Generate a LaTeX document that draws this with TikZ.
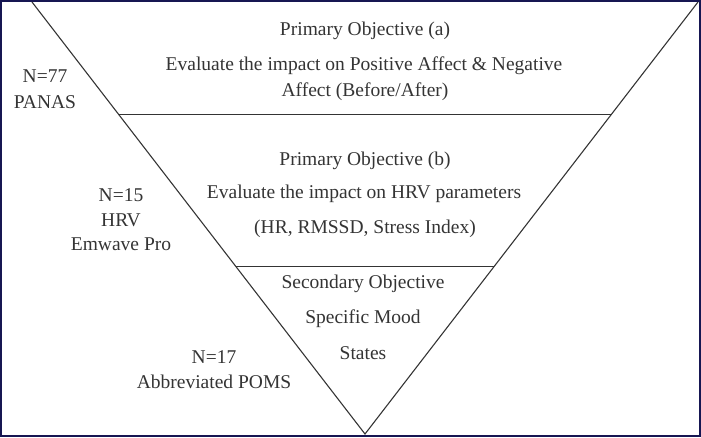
\documentclass[tikz,border=0pt]{standalone}
\usepackage{fontspec}
\setmainfont{Liberation Serif}
\usepackage{xcolor}
\usepackage{tikz}
\usetikzlibrary{calc}
\definecolor{inkgray}{RGB}{52,52,52}
\definecolor{framenavy}{RGB}{22,22,82}

\begin{document}
\begin{tikzpicture}[x=1pt, y=-1pt,
    txt/.style={text=inkgray, font=\fontsize{19.5}{23}\selectfont, anchor=base, inner sep=0pt},
    funnel/.style={draw=inkgray, line width=1.1pt, line join=miter}]
    \useasboundingbox (0,0) rectangle (701,437);

    % Frame
    \draw[framenavy, line width=2pt] (1,1) rectangle (700,436);

    % Inverted triangle
    \coordinate (tl) at (32,2);
    \coordinate (tr) at (698,2);
    \coordinate (apex) at (365,434);
    \draw[funnel] (tl) -- (apex) -- (tr);

    % Dividers
    \coordinate (l1) at ($(tl)!0.2604!(apex)$);
    \coordinate (r1) at ($(tr)!0.2604!(apex)$);
    \coordinate (l2) at ($(tl)!0.6123!(apex)$);
    \coordinate (r2) at ($(tr)!0.6123!(apex)$);
    \draw[funnel] (l1) -- (r1);
    \draw[funnel] (l2) -- (r2);

    % Top level
    \node[txt] (pa1) at (365,35) {Primary Objective (a)};
    \node[txt] (pa2) at (364,70) {Evaluate the impact on Positive Affect \& Negative};
    \node[txt] (pa3) at (365,96) {Affect (Before/After)};

    % Middle level
    \node[txt] (pb1) at (365,165) {Primary Objective (b)};
    \node[txt] (pb2) at (364,198) {Evaluate the impact on HRV parameters};
    \node[txt] (pb3) at (365,233) {(HR, RMSSD, Stress Index)};

    % Bottom level
    \node[txt] (sc1) at (363,288) {Secondary Objective};
    \node[txt] (sc2) at (363,323) {Specific Mood};
    \node[txt] (sc3) at (363,359) {States};

    % Samples and tools
    \node[txt] (na1) at (45,82) {N=77};
    \node[txt] (na2) at (45,108) {PANAS};
    \node[txt] (nb1) at (121,201) {N=15};
    \node[txt] (nb2) at (121,226) {HRV};
    \node[txt] (nb3) at (121,250) {Emwave Pro};
    \node[txt] (nc1) at (214,363) {N=17};
    \node[txt] (nc2) at (214,388) {Abbreviated POMS};
\end{tikzpicture}
\end{document}
